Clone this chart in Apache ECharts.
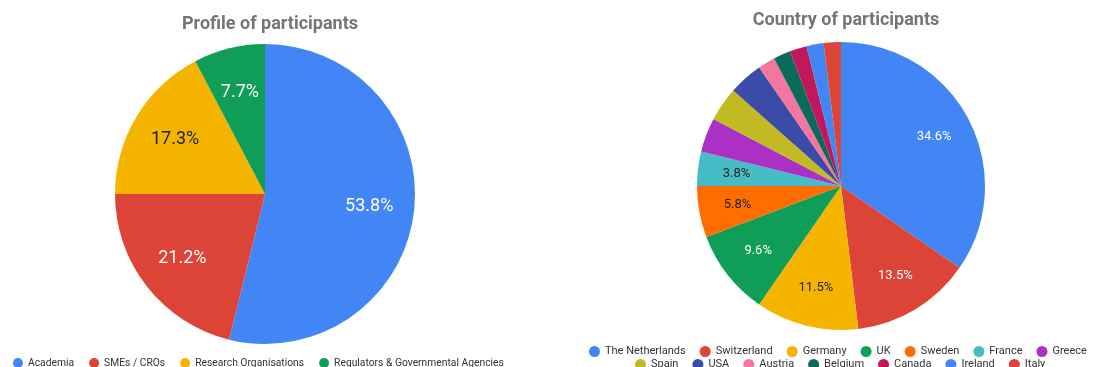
<!DOCTYPE html>
<html><head><meta charset="utf-8">
<script src="https://cdn.jsdelivr.net/npm/echarts@6/dist/echarts.min.js"></script>
<style>html,body{margin:0;padding:0;background:#fff}#c{width:1096px;height:367px}</style>
</head><body><div id="c"></div>
<script>
// Data
const profileTitle = 'Profile of participants';
const profileNames = ['Academia', 'SMEs / CROs', 'Research Organisations', 'Regulators & Governmental Agencies'];
const profileValues = [28, 11, 9, 4];
const profileColors = ['#4285F4', '#DB4437', '#F4B400', '#0F9D58'];
const profileLabelColors = ['#ffffff', '#ffffff', '#222222', '#ffffff'];

const countryTitle = 'Country of participants';
const countryNames = ['The Netherlands', 'Switzerland', 'Germany', 'UK', 'Sweden', 'France', 'Greece',
  'Spain', 'USA', 'Austria', 'Belgium', 'Canada', 'Ireland', 'Italy'];
const countryValues = [18, 7, 6, 5, 3, 2, 2, 2, 2, 1, 1, 1, 1, 1];
const countryShowLabel = [true, true, true, true, true, true, false, false, false, false, false, false, false, false];
const countryColors = ['#4285F4', '#DB4437', '#F4B400', '#0F9D58', '#FF6D00', '#46BDC6', '#AB30C4',
  '#C1BA23', '#3B4BA8', '#F4769F', '#0B6B5A', '#C2185B', '#4285F4', '#DB4437'];
const countryLabelColors = ['#ffffff', '#ffffff', '#222222', '#ffffff', '#222222', '#222222', '#222222',
  '#222222', '#ffffff', '#222222', '#ffffff', '#ffffff', '#ffffff', '#ffffff'];

const FONT = 'Roboto, "Noto Sans", sans-serif';
const chart = echarts.init(document.getElementById('c'), null, {renderer: 'canvas'});

function pct(v, vals) {
  const s = vals.reduce((a, b) => a + b, 0);
  return (v / s * 100).toFixed(1) + '%';
}

function baseData(names, values, colors) {
  return names.map((n, i) => ({name: n, value: values[i], itemStyle: {color: colors[i]}}));
}
function labelData(names, values, labelColors, show, fontSize) {
  return names.map((n, i) => ({
    name: n, value: values[i],
    itemStyle: {color: 'rgba(0,0,0,0)'},
    label: {show: show ? show[i] : true, color: labelColors[i], fontSize: fontSize}
  }));
}

const lc = [265, 194], lr = 150;
const rc = [841, 186], rr = 144;

chart.setOption({
  animation: false,
  title: [
    {text: profileTitle, left: lc[0], top: 10, textAlign: 'center',
      textStyle: {fontFamily: FONT, fontSize: 18, fontWeight: 'bold', color: '#757575'}},
    {text: countryTitle, left: rc[0], top: 6, textAlign: 'center',
      textStyle: {fontFamily: FONT, fontSize: 18, fontWeight: 'bold', color: '#757575'}}
  ],
  legend: [
    {data: profileNames, left: 8, top: 353, icon: 'circle', itemWidth: 10, itemHeight: 10, itemGap: 15,
      textStyle: {fontFamily: FONT, fontSize: 10.3, color: '#333'}},
    {data: countryNames.slice(0, 7), left: 584, top: 341, icon: 'circle', itemWidth: 11, itemHeight: 11, itemGap: 14,
      textStyle: {fontFamily: FONT, fontSize: 11, color: '#333'}},
    {data: countryNames.slice(7), left: 630, top: 354, icon: 'circle', itemWidth: 11, itemHeight: 11, itemGap: 14,
      textStyle: {fontFamily: FONT, fontSize: 11, color: '#333'}}
  ],
  series: [
    {type: 'pie', center: lc, radius: [0, lr], startAngle: 90, clockwise: true,
      label: {show: false}, labelLine: {show: false}, emphasis: {disabled: true},
      data: baseData(profileNames, profileValues, profileColors)},
    {type: 'pie', center: lc, radius: [lr * 0.36, lr], startAngle: 90, clockwise: true, silent: true,
      legendHoverLink: false, emphasis: {disabled: true}, labelLine: {show: false},
      label: {show: true, position: 'inside', fontFamily: FONT, fontSize: 18,
        formatter: p => pct(p.value, profileValues)},
      data: labelData(profileNames, profileValues, profileLabelColors, null, 18)},
    {type: 'pie', center: rc, radius: [0, rr], startAngle: 90, clockwise: true,
      label: {show: false}, labelLine: {show: false}, emphasis: {disabled: true},
      data: baseData(countryNames, countryValues, countryColors)},
    {type: 'pie', center: rc, radius: [rr * 0.42, rr], startAngle: 90, clockwise: true, silent: true,
      legendHoverLink: false, emphasis: {disabled: true}, labelLine: {show: false},
      label: {show: true, position: 'inside', fontFamily: FONT, fontSize: 13,
        formatter: p => pct(p.value, countryValues)},
      data: labelData(countryNames, countryValues, countryLabelColors, countryShowLabel, 13)}
  ]
});
</script></body></html>
